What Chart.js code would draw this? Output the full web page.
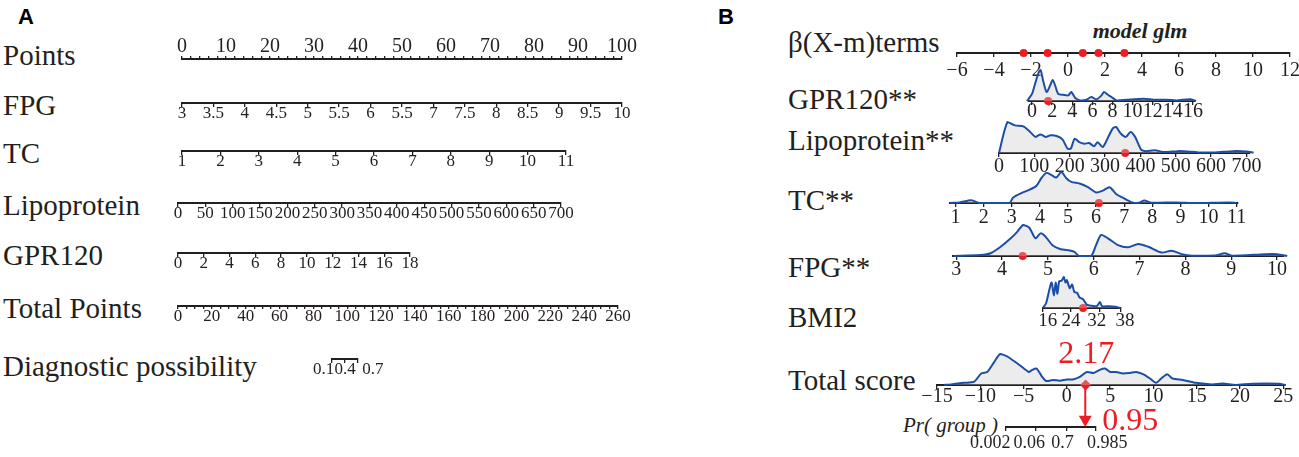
<!DOCTYPE html>
<html>
<head>
<meta charset="utf-8">
<script src="https://cdn.jsdelivr.net/npm/chart.js@4.4.1/dist/chart.umd.min.js"></script>
<style>
  html, body { margin: 0; padding: 0; background: #fff; }
  #page { position: relative; width: 1299px; height: 457px; overflow: hidden; }
  .lab { position: absolute; white-space: nowrap; line-height: 1; color: #231f20;
         font-family: 'Liberation Serif', 'Times New Roman', Times, serif; }
  .row { position: absolute; }
</style>
</head>
<body>
<div id="page"></div>
<script>
// ---- panel A : nomogram scales ----
const pointsTicks = [0, 10, 20, 30, 40, 50, 60, 70, 80, 90, 100];
const fpgTicks = [3, 3.5, 4, 4.5, 5, 5.5, 6, 6.5, 7, 7.5, 8, 8.5, 9, 9.5, 10];
const fpgLabels = ['3', '3.5', '4', '4.5', '5', '5.5', '6', '5.5', '7', '7.5', '8', '8.5', '9', '9.5', '10'];
const tcTicks = [1, 2, 3, 4, 5, 6, 7, 8, 9, 10, 11];
const lipoTicks = [0, 50, 100, 150, 200, 250, 300, 350, 400, 450, 500, 550, 600, 650, 700];
const gprTicks = [0, 2, 4, 6, 8, 10, 12, 14, 16, 18];
const totalPointsTicks = [0, 20, 40, 60, 80, 100, 120, 140, 160, 180, 200, 220, 240, 260];
const probTicks = [0.1, 0.4, 0.7];

// ---- panel B : regplot nomogram ----
const betaTicks = [-6, -4, -2, 0, 2, 4, 6, 8, 10, 12];
const betaTerms = [-2.4, -1.1, 0.8, 1.65, 3.05];

const gprTicksB = [0, 2, 4, 6, 8, 10, 12, 14, 16];
const gprX = [-0.5, 0, 0.3, 0.6, 0.85, 1.1, 1.45, 1.8, 2.05, 2.3, 2.6, 3.1, 3.6, 3.9, 4.3, 4.8, 5.4, 5.9, 6.4, 6.9, 7.15, 7.5, 7.9, 8.4, 9.4, 11.1, 12.1, 13.4, 14.4, 15.7, 16.3];
const gprD = [0, 0.23, 0.55, 0.87, 1.0, 0.66, 0.29, 0.5, 0.68, 0.5, 0.23, 0.2, 0.18, 0.29, 0.1, 0.02, 0.04, 0.13, 0.05, 0.18, 0.29, 0.21, 0.13, 0.02, 0.04, 0.07, 0.04, 0.04, 0.02, 0.06, 0];
const gprValue = 1.6;

const lipoTicksB = [0, 100, 200, 300, 400, 500, 600, 700];
const lipoX = [0, 24, 45, 69, 88, 103, 117, 132, 146, 165, 180, 194, 203, 214, 227, 241, 255, 269, 279, 293, 302, 321, 331, 345, 359, 372, 385, 402, 416, 440, 468, 506, 534, 563, 610, 662, 700, 720];
const lipoD = [0, 1.0, 0.89, 0.86, 0.68, 0.52, 0.6, 0.52, 0.57, 0.54, 0.43, 0.14, 0.14, 0.46, 0.35, 0.3, 0.32, 0.22, 0.35, 0.19, 0.35, 0.78, 0.84, 0.62, 0.52, 0.68, 0.52, 0.11, 0.06, 0.09, 0.03, 0.06, 0.05, 0.02, 0.02, 0.06, 0.05, 0.01];
const lipoValue = 357;

const tcTicksB = [1, 2, 3, 4, 5, 6, 7, 8, 9, 10, 11];
const tcX = [0.8, 1.15, 1.56, 1.85, 2.92, 3.04, 3.34, 3.63, 3.87, 4.05, 4.23, 4.4, 4.58, 4.76, 4.94, 5.12, 5.41, 5.71, 6.0, 6.24, 6.48, 6.72, 6.95, 7.25, 7.49, 7.72, 7.96, 8.84, 9.55, 10.74, 11.0];
const tcD = [0, 0.02, 0.09, 0, 0, 0.17, 0.32, 0.43, 0.55, 0.8, 0.97, 0.91, 0.82, 1.0, 0.8, 0.68, 0.63, 0.51, 0.34, 0.4, 0.51, 0.28, 0.17, 0.03, 0, 0.08, 0.01, 0.02, 0, 0.02, 0];
const tcValue = 6.1;

const fpgTicksB = [3, 4, 5, 6, 7, 8, 9, 10];
const fpgX = [2.94, 3.53, 3.75, 3.97, 4.19, 4.33, 4.46, 4.59, 4.73, 4.84, 4.95, 5.1, 5.28, 5.42, 5.57, 5.68, 5.94, 6.05, 6.16, 6.31, 6.53, 6.75, 6.97, 7.19, 7.48, 7.7, 7.92, 8.14, 8.65, 8.86, 9.01, 9.74, 10.0, 10.22];
const fpgD = [0, 0.03, 0.09, 0.3, 0.57, 0.78, 1.0, 0.92, 0.57, 0.73, 0.62, 0.35, 0.22, 0.19, 0.14, 0, 0, 0.35, 0.68, 0.57, 0.35, 0.28, 0.39, 0.3, 0.11, 0.17, 0.06, 0.01, 0.02, 0.09, 0.01, 0.06, 0.06, 0];
const fpgValue = 4.45;

const bmiTicksB = [16, 24, 32, 38];
const bmiX = [16.0, 16.9, 18.4, 19.1, 19.6, 20.1, 20.6, 21.3, 21.9, 22.4, 22.8, 23.6, 24.3, 24.9, 25.7, 26.4, 27.4, 28.5, 30.0, 31.3, 32.2, 32.8, 34.7, 36.6, 38.0];
const bmiD = [0, 0.16, 0.82, 0.4, 0.82, 0.46, 0.86, 0.88, 1.0, 0.82, 0.9, 0.64, 0.76, 0.52, 0.49, 0.34, 0.28, 0.1, 0.07, 0.06, 0.19, 0.06, 0.06, 0.04, 0];
const bmiValue = 27.4;

const scoreTicks = [-15, -10, -5, 0, 5, 10, 15, 20, 25];
const scoreX = [-14.2, -13.4, -11.9, -10.7, -9.9, -9.2, -8.4, -7.7, -6.9, -6.2, -5.4, -4.4, -4.1, -3.5, -2.9, -2.4, -1.6, -0.8, 0, 0.7, 1.5, 2.3, 3.1, 3.8, 4.4, 5.0, 5.7, 6.5, 7.3, 8.0, 8.8, 9.6, 10.3, 10.9, 11.6, 12.2, 13.4, 14.9, 16.8, 18.0, 19.5, 21.4, 24.5, 25.3];
const scoreD = [0, 0.02, 0.07, 0.11, 0.37, 0.42, 0.74, 1.0, 0.92, 0.79, 0.63, 0.42, 0.47, 0.53, 0.28, 0.13, 0.16, 0.14, 0.18, 0.18, 0.26, 0.42, 0.39, 0.49, 0.53, 0.42, 0.42, 0.37, 0.39, 0.42, 0.35, 0.21, 0.07, 0.21, 0.35, 0.21, 0.16, 0.07, 0.02, 0.05, 0, 0.04, 0.04, 0];
const totalScore = 2.17;

const prTicks = [0.002, 0.06, 0.7, 0.985];
const predProb = 0.95;

// ---- drawing ----
const SERIF = "'Liberation Serif', 'Times New Roman', Times, serif";
const INK = '#231f20';
const BLUE = '#1d4ea6';
const FILL = 'rgba(200,200,200,0.35)';
const RED = '#ee1d23';
const FIG = '\u2007', PUN = '\u2008';   // figure / punctuation spaces, used to nudge crowded labels
const page = document.getElementById('page');
Chart.defaults.font.family = SERIF;

const logit = p => Math.log(p / (1 - p));
const fmt = v => (v < 0 ? '\u2212' + Math.abs(v) : String(v));

function label(text, x, baseline, size, extra) {
  const d = document.createElement('div');
  d.className = 'lab';
  d.textContent = text;
  d.style.left = x + 'px';
  d.style.top = (baseline - 0.8375 * size) + 'px';
  d.style.fontSize = size + 'px';
  if (extra) Object.assign(d.style, extra);
  page.appendChild(d);
  return d;
}

function density(xs, ds) {
  return { data: xs.map((x, i) => ({ x, y: ds[i] })), borderColor: BLUE, borderWidth: 2,
           backgroundColor: FILL, fill: 'origin', pointRadius: 0, tension: 0.25, clip: false };
}
function dots(vals, extra) {
  return Object.assign({ data: vals.map(x => ({ x, y: 0 })), showLine: false, pointRadius: 4,
           pointBackgroundColor: RED, pointBorderWidth: 0, clip: false }, extra || {});
}

// one chart per axis row; x0/x1 = page pixels of lo/hi, y = page pixel of the axis line
function axisRow(c) {
  const pos = c.pos || 'bottom';
  const padL = c.padL || 40, padR = c.padR || 40, padT = c.padT || 12, padB = 6;
  const plotH = c.plotH || 36;
  const tl = c.tickLen == null ? 4 : c.tickLen;
  const tp = c.tickPad || 0;
  const fs = c.fontSize || 17;
  const x0 = Math.round(c.x0), x1 = Math.round(c.x1);
  const W = x1 - x0 + padL + padR;
  let H = Math.ceil(padT + plotH + tl + fs + 2 * tp + padB);
  const labels = c.labels || c.ticks.map(fmt);
  const box = document.createElement('div');
  box.className = 'row';
  page.appendChild(box);
  let chart;
  for (let pass = 0; pass < 3; pass++) {
    if (chart) chart.destroy();
    box.innerHTML = '';
    const cv = document.createElement('canvas');
    cv.width = W; cv.height = H;
    cv.style.width = W + 'px'; cv.style.height = H + 'px';
    box.appendChild(cv);
    chart = new Chart(cv, {
      type: 'line',
      data: { datasets: c.datasets || [] },
      options: {
        responsive: false, maintainAspectRatio: false, animation: false, events: [],
        devicePixelRatio: 1,
        layout: { padding: { left: padL, right: padR, top: padT, bottom: padB }, autoPadding: false },
        plugins: { legend: { display: false }, tooltip: { enabled: false } },
        scales: {
          x: {
            type: 'linear', position: pos, min: c.lo, max: c.hi,
            afterBuildTicks: s => { s.ticks = c.ticks.map(v => ({ value: v })); },
            border: { display: true, color: INK, width: 2 },
            grid: { display: true, drawOnChartArea: false, drawTicks: true, tickLength: tl,
                    color: INK, lineWidth: 1.3 },
            ticks: { autoSkip: false, maxRotation: 0, minRotation: 0, padding: tp, color: INK,
                     font: { family: SERIF, size: fs, lineHeight: 1 },
                     callback: (v, i) => labels[i] }
          },
          y: { type: 'linear', display: false, min: c.ymin || 0, max: 1 }
        }
      },
      plugins: c.plugins || []
    });
    const a = chart.chartArea;
    const diff = plotH - (a.bottom - a.top);
    if (Math.abs(diff) < 0.5) break;
    H += Math.round(diff);
  }
  const a = chart.chartArea;
  box.style.left = (x0 - a.left) + 'px';
  box.style.top = Math.round(c.y - (pos === 'top' ? a.top : a.bottom)) + 'px';
  return chart;
}

// ===== Panel A =====
label('A', 18, 24, 22, { fontFamily: "'Liberation Sans', Arial, sans-serif", fontWeight: 'bold', color: '#000' });
label('Points', 3, 65, 29);
label('FPG', 3, 115, 29);
label('TC', 3, 163, 29);
label('Lipoprotein', 3, 215, 29);
label('GPR120', 3, 265, 29);
label('Total Points', 3, 318, 29);
label('Diagnostic possibility', 3, 376, 29);

const pointsAll = [];
for (let v = 0; v <= 100; v += 2) pointsAll.push(v);
axisRow({ x0: 182, x1: 622, lo: 0, hi: 100, y: 59, pos: 'top', fontSize: 20, tickLen: 3, tickPad: -1,
          ticks: pointsAll, labels: pointsAll.map(v => (pointsTicks.includes(v) ? String(v) : '')) });
axisRow({ x0: 182, x1: 622, lo: 3, hi: 10, y: 103, ticks: fpgTicks, labels: fpgLabels, tickPad: -1.5 });
axisRow({ x0: 182, x1: 566, lo: 1, hi: 11, y: 151, ticks: tcTicks, tickPad: -1.5 });
axisRow({ x0: 178, x1: 561, lo: 0, hi: 700, y: 203, ticks: lipoTicks, tickPad: -1.5 });
axisRow({ x0: 178, x1: 410, lo: 0, hi: 18, y: 253, ticks: gprTicks, tickPad: -1.5 });
const totalAll = [];
for (let v = 0; v <= 260; v += 5) totalAll.push(v);
axisRow({ x0: 178, x1: 618, lo: 0, hi: 260, y: 306, ticks: totalAll, tickLen: 3, tickPad: -1,
          labels: totalAll.map(v => (totalPointsTicks.includes(v) ? String(v) : '')) });
axisRow({ x0: 332, x1: 358, lo: 0.1, hi: 0.7, y: 359, ticks: probTicks, fontSize: 17, tickPad: -1.5,
          labels: ['0.1' + FIG + FIG, '0.4', FIG + FIG + FIG + PUN + '0.7'] });

// ===== Panel B =====
label('B', 718, 24, 22, { fontFamily: "'Liberation Sans', Arial, sans-serif", fontWeight: 'bold', color: '#000' });
label('model glm', 1140, 38, 22, { fontWeight: 'bold', fontStyle: 'italic', transform: 'translateX(-50%)' });
label('\u03b2(X-m)terms', 788, 52, 29);
label('GPR120**', 788, 109, 29);
label('Lipoprotein**', 788, 150, 29);
label('TC**', 788, 210, 29);
label('FPG**', 788, 277, 29);
label('BMI2', 788, 327, 29);
label('Total score', 788, 390, 29);
label('Pr( group )', 903, 433, 21, { fontStyle: 'italic' });

const FS = 20;
axisRow({ x0: 957, x1: 1290, lo: -6, hi: 12, y: 53, ticks: betaTicks, fontSize: FS, tickPad: 4,
          plotH: 40, datasets: [dots(betaTerms)] });
axisRow({ x0: 1029, x1: 1195, lo: -0.3, hi: 16.2, y: 101, ticks: gprTicksB, fontSize: FS, tickPad: -3,
          plotH: 31, datasets: [density(gprX, gprD), dots([gprValue])] });
axisRow({ x0: 999, x1: 1250, lo: 0, hi: 710, y: 153, ticks: lipoTicksB, fontSize: FS, tickPad: 0,
          plotH: 31, datasets: [density(lipoX, lipoD), dots([lipoValue])] });
axisRow({ x0: 950, x1: 1238, lo: 0.8, hi: 11.05, y: 203, ticks: tcTicksB, fontSize: FS, tickPad: 1,
          plotH: 31, datasets: [density(tcX, tcD), dots([tcValue])] });
axisRow({ x0: 953, x1: 1284, lo: 2.93, hi: 10.15, y: 256, ticks: fpgTicksB, fontSize: FS, tickPad: 0,
          plotH: 31, datasets: [density(fpgX, fpgD), dots([fpgValue])] });
axisRow({ x0: 1043, x1: 1121, lo: 16, hi: 38.2, y: 308, ticks: bmiTicksB, fontSize: 19, tickPad: 0,
          labels: [FIG + '16', '24', '32' + PUN, PUN + PUN + '38'],
          plotH: 31, datasets: [density(bmiX, bmiD), dots([bmiValue])] });

// total score axis: -15 at 936.7 px, 8.67 px per unit
const scorePx = v => 936.7 + (v + 15) * 8.67;
axisRow({ x0: scorePx(-15), x1: scorePx(25.2), lo: -15, hi: 25.2, y: 385, ticks: scoreTicks, fontSize: FS,
          tickPad: -2.5, plotH: 31,
          datasets: [density(scoreX, scoreD), dots([totalScore], { pointStyle: 'rectRot', pointRadius: 5.5 })] });

// probability axis on the logit scale, aligned with the total score
const shift = logit(predProb) - totalScore;
const prLo = logit(prTicks[0]), prHi = logit(prTicks[prTicks.length - 1]);
const arrowText = {
  id: 'arrowText',
  afterDatasetsDraw(ch) {
    const ctx = ch.ctx;
    const x = ch.scales.x.getPixelForValue(logit(predProb));
    ctx.save();
    ctx.fillStyle = RED;
    ctx.font = '32px ' + SERIF;
    ctx.textBaseline = 'alphabetic';
    ctx.textAlign = 'center';
    ctx.fillText(totalScore.toFixed(2), x + 1, ch.chartArea.top - 22);
    ctx.textAlign = 'left';
    ctx.fillText(predProb.toFixed(2), x + 17, ch.chartArea.bottom + 3);
    ctx.restore();
  }
};
axisRow({ x0: scorePx(prLo - shift), x1: scorePx(prHi - shift), lo: prLo, hi: prHi, y: 427,
          ticks: prTicks.map(logit), fontSize: 18, tickPad: 3,
          labels: ['0.002' + FIG + FIG + FIG + PUN, '0.06' + FIG + PUN, '0.7' + FIG, FIG + FIG + PUN + '0.985'],
          plotH: 42, ymin: -0.215, padT: 50, padR: 90, plugins: [arrowText],
          datasets: [{ data: [{ x: logit(predProb), y: 1 }, { x: logit(predProb), y: 0 }],
                       borderColor: RED, borderWidth: 2, pointStyle: 'triangle', pointRotation: 180,
                       pointRadius: [0, 7.5], pointBackgroundColor: RED, pointBorderWidth: 0, clip: false }] });
</script>
</body>
</html>
